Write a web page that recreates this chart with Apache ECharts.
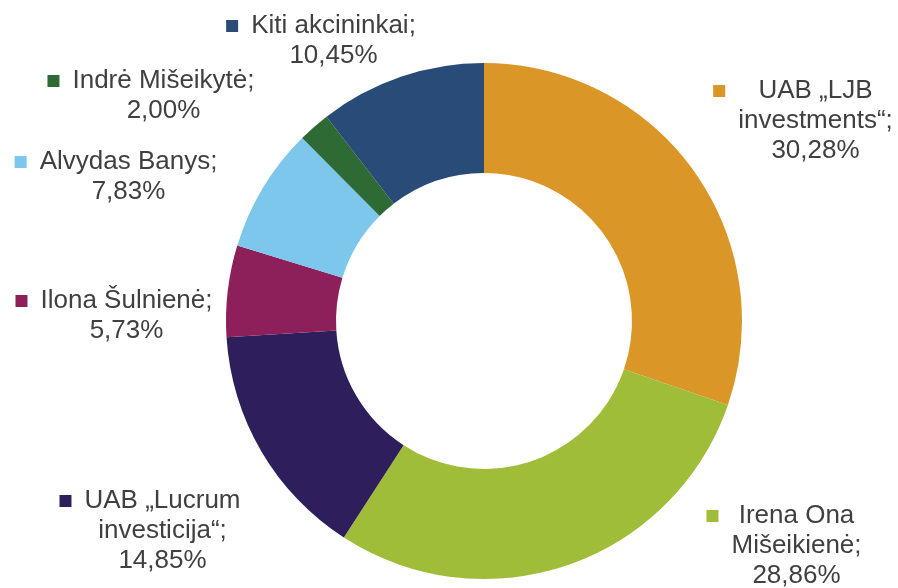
<!DOCTYPE html>
<html>
<head>
<meta charset="utf-8">
<script src="https://cdn.jsdelivr.net/npm/echarts@6/dist/echarts.min.js"></script>
<style>
  html, body { margin: 0; padding: 0; background: #fff; }
  #chart { width: 898px; height: 588px; }
</style>
</head>
<body>
<div id="chart"></div>
<script>
// shareholders, clockwise from 12 o'clock
const names = [
  'UAB „LJB\ninvestments“',
  'Irena Ona\nMišeikienė',
  'UAB „Lucrum\ninvesticija“',
  'Ilona Šulnienė',
  'Alvydas Banys',
  'Indrė Mišeikytė',
  'Kiti akcininkai'
];
const shares = [30.28, 28.86, 14.85, 5.73, 7.83, 2.00, 10.45];
const colors = ['#DB9628', '#9FBD38', '#2E1F5C', '#8D1F5B', '#7CC7EB', '#2E6A33', '#284B78'];

// label block centres (marker + text)
const labelPos = [
  [803, 121], [784, 546], [150, 531], [114, 316], [116, 177], [151, 96], [321, 41]
];

const rich = {
  g: { width: 13, align: 'left' },
  s: { width: 25, align: 'left' },
  t: { align: 'center', color: '#404040', fontSize: 26, lineHeight: 30, fontFamily: 'Liberation Sans, Arial, sans-serif' }
};
colors.forEach((c, i) => {
  rich['m' + i] = { width: 12, height: 12, backgroundColor: c, align: 'left' };
});

const chart = echarts.init(document.getElementById('chart'), null, { renderer: 'canvas' });

chart.setOption({
  backgroundColor: '#fff',
  animation: false,
  series: [{
    type: 'pie',
    center: [484, 321],
    radius: [148, 258],
    startAngle: 90,
    clockwise: true,
    avoidLabelOverlap: false,
    data: names.map((n, i) => ({ name: n, value: shares[i], itemStyle: { color: colors[i] } })),
    labelLine: { show: false },
    emphasis: { disabled: true },
    label: {
      show: true,
      position: 'outside',
      lineHeight: 30,
      fontSize: 26,
      fontFamily: 'Liberation Sans, Arial, sans-serif',
      color: '#404040',
      formatter: (p) => {
        const lines = (p.name + ';\n' + p.value.toFixed(2).replace('.', ',') + '%').split('\n');
        return lines.map((l, k) => (k === 0 ? '{m' + p.dataIndex + '|}{g|}' : '{s|}') + '{t|' + l + '}').join('\n');
      },
      rich: rich
    },
    labelLayout: (params) => ({
      x: labelPos[params.dataIndex][0],
      y: labelPos[params.dataIndex][1],
      align: 'center',
      verticalAlign: 'middle'
    })
  }]
});
</script>
</body>
</html>
